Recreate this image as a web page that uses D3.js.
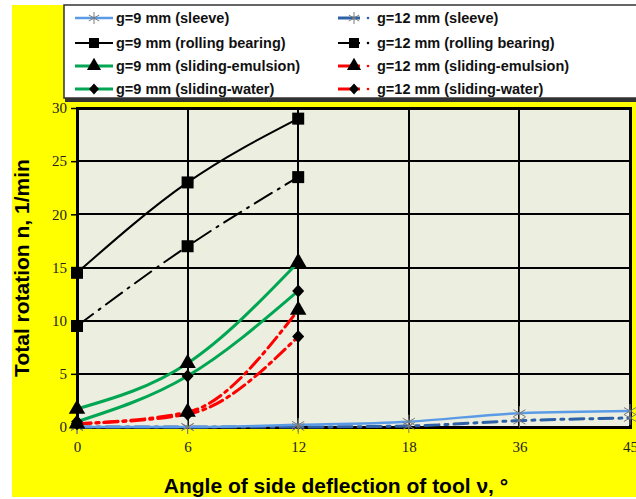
<!DOCTYPE html>
<html><head><meta charset="utf-8">
<script src="https://cdn.jsdelivr.net/npm/d3@7"></script>
<style>body{margin:0;background:#fff;}svg{display:block;}</style>
</head><body>
<script>
const categories = ["0","6","12","18","36","45"];
const yTicks = [0,5,10,15,20,25,30];
const sleeve9 = [0, 0, 0.2, 0.5, 1.3, 1.5];
const sleeve12 = [0, 0, 0, 0.1, 0.6, 0.85];
const rolling9 = [14.5, 23, 29];
const rolling12 = [9.5, 17, 23.5];
const emulsion9 = [1.7, 6, 15.5];
const emulsion12 = [0.3, 1.4, 11];
const water9 = [0.5, 4.8, 12.8];
const water12 = [0.3, 1.2, 8.5];

const series = [
  {name:"g=9 mm (sleeve)", values:sleeve9, color:"#5B9BE6", width:2.5, dash:null, marker:"star"},
  {name:"g=9 mm (rolling bearing)", values:rolling9, color:"#000", width:2, dash:null, marker:"square"},
  {name:"g=9 mm (sliding-emulsion)", values:emulsion9, color:"#00A651", width:3, dash:null, marker:"triangle"},
  {name:"g=9 mm (sliding-water)", values:water9, color:"#00A651", width:3, dash:null, marker:"diamond"},
  {name:"g=12 mm (sleeve)", values:sleeve12, color:"#2E62A8", width:3, dash:"14,6,3,6", marker:"star"},
  {name:"g=12 mm (rolling bearing)", values:rolling12, color:"#000", width:2, dash:"20,7,2,7", marker:"square"},
  {name:"g=12 mm (sliding-emulsion)", values:emulsion12, color:"#FF0000", width:3, dash:"14,5,3,5", marker:"triangle"},
  {name:"g=12 mm (sliding-water)", values:water12, color:"#FF0000", width:3, dash:"14,5,3,5", marker:"diamond"}
];

const W = 636, H = 499;
const svg = d3.select("body").append("svg").attr("width", W).attr("height", H);
svg.append("rect").attr("x",12).attr("y",5).attr("width",W-12).attr("height",492).attr("fill","#FFFF00");

const x = d3.scalePoint().domain(categories).range([77, 630]);
const y = d3.scaleLinear().domain([0,30]).range([427,108]);
const r = v => Math.round(v);

svg.append("rect").attr("x",77).attr("y",108).attr("width",553).attr("height",319).attr("fill","#ECEEE0");

// grid
svg.append("g").attr("shape-rendering","crispEdges").selectAll("line").data(yTicks).join("line")
  .attr("x1",77).attr("x2",630).attr("y1",d=>r(y(d))).attr("y2",d=>r(y(d)))
  .attr("stroke","#000").attr("stroke-width",2);
svg.append("g").attr("shape-rendering","crispEdges").selectAll("line").data(categories).join("line")
  .attr("x1",d=>r(x(d))).attr("x2",d=>r(x(d))).attr("y1",108).attr("y2",427)
  .attr("stroke","#000").attr("stroke-width",2);
svg.append("rect").attr("x",77).attr("y",108).attr("width",553).attr("height",319)
  .attr("fill","none").attr("stroke","#000").attr("stroke-width",3).attr("shape-rendering","crispEdges");

// axes
const yAxis = d3.axisLeft(y).tickValues(yTicks).tickSize(6).tickPadding(4);
const gy = svg.append("g").attr("transform","translate(77,0)").call(yAxis);
gy.select(".domain").remove();
gy.selectAll("line").attr("stroke","#000").attr("stroke-width",1.5);
gy.selectAll("text").attr("font-family","'Liberation Serif', serif").attr("font-size",15).attr("fill","#222");

const xAxis = d3.axisBottom(x).tickSize(0).tickPadding(14);
const gx = svg.append("g").attr("transform","translate(0,427)").call(xAxis);
gx.select(".domain").remove();
gx.selectAll("text").attr("font-family","'Liberation Serif', serif").attr("font-size",15).attr("fill","#222");

const markerPath = (type, size) => {
  if (type === "square") return d3.symbol(d3.symbolSquare, size*size)();
  if (type === "triangle") return d3.symbol(d3.symbolTriangle, size*size*0.6)();
  if (type === "diamond") { const a = size/2, b = size/2 + 0.5; return `M0,${-b}L${a},0L0,${b}L${-a},0Z`; }
  return "";
};
const line = d3.line().x((d,i)=>x(categories[i])).y(d=>y(d)).curve(d3.curveMonotoneX);

const order = [4,0,5,1,6,7,2,3];
order.forEach(k => {
  const s = series[k];
  svg.append("path").datum(s.values).attr("d", line)
    .attr("fill","none").attr("stroke",s.color).attr("stroke-width",s.width)
    .attr("stroke-dasharray",s.dash).attr("stroke-linecap","round");
});
const star = (g, cx, cy, rr) => {
  [0,60,120].forEach(a => {
    const rad = a*Math.PI/180;
    g.append("line").attr("x1",cx - rr*Math.sin(rad)).attr("y1",cy - rr*Math.cos(rad))
      .attr("x2",cx + rr*Math.sin(rad)).attr("y2",cy + rr*Math.cos(rad))
      .attr("stroke","#7a7a7a").attr("stroke-width",1);
  });
};
order.forEach(k => {
  const s = series[k];
  const g = svg.append("g");
  s.values.forEach((v,i) => {
    if (s.marker === "star") star(g, x(categories[i]), y(v), 7);
    else g.append("path").attr("d", markerPath(s.marker, s.marker==="square"?12:(s.marker==="diamond"?12:14)))
        .attr("transform",`translate(${x(categories[i])},${y(v)})`).attr("fill","#000");
  });
});

// legend
svg.append("rect").attr("x",65).attr("y",8).attr("width",580).attr("height",94).attr("fill","#333");
svg.append("rect").attr("x",64).attr("y",5).attr("width",580).attr("height",93)
  .attr("fill","#fff").attr("stroke","#333").attr("stroke-width",1.5);
const rows = [18,43,66,89];
series.forEach((s,k) => {
  const col = k < 4 ? 0 : 1;
  const ry = rows[k % 4];
  const g = svg.append("g");
  let lx1, lx2, mx, tx;
  if (col === 0) { lx1 = 75; lx2 = 113; mx = 94; tx = 116; }
  else { lx1 = 338; lx2 = 360; mx = 354; tx = 377; }
  g.append("line").attr("x1",lx1).attr("x2",lx2).attr("y1",ry).attr("y2",ry)
    .attr("stroke",s.color).attr("stroke-width",s.width);
  if (s.marker === "star") star(g, mx, ry, 6);
  else g.append("path").attr("d", markerPath(s.marker, s.marker==="square"?10:(s.marker==="diamond"?10:12)))
      .attr("transform",`translate(${mx},${ry})`).attr("fill","#000");
  if (col === 1) g.append("circle").attr("cx",368).attr("cy",ry).attr("r",1.3).attr("fill",s.color);
  g.append("text").attr("x",tx).attr("y",ry+5).text(s.name)
    .attr("font-family","'Liberation Sans', Arial, sans-serif").attr("font-size",14.5)
    .attr("font-weight","bold").attr("fill","#111");
});

// axis titles
svg.append("text").attr("x",336).attr("y",493).attr("text-anchor","middle")
  .attr("font-family","'Liberation Sans', Arial, sans-serif").attr("font-size",21).attr("font-weight","bold")
  .text("Angle of side deflection of tool \u03BD,  \u00B0");
svg.append("text").attr("transform","translate(29,268) rotate(-90)").attr("text-anchor","middle")
  .attr("font-family","'Liberation Sans', Arial, sans-serif").attr("font-size",21).attr("font-weight","bold")
  .text("Total rotation  n, 1/min");
</script>
</body></html>
